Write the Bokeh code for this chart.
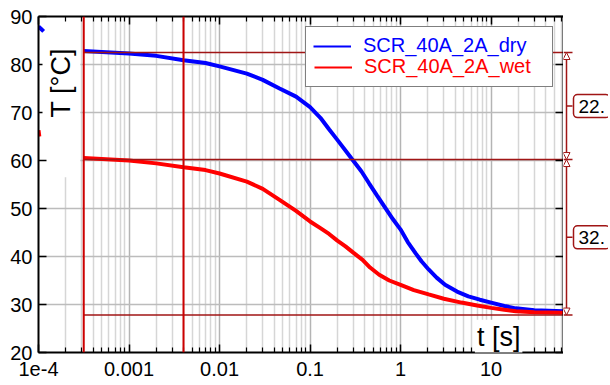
import numpy as np
from bokeh.plotting import figure
from bokeh.models import (Range1d, LogAxis, LinearAxis, FixedTicker, Span, Legend, LegendItem,
                          Label, Arrow, NormalHead, BoxAnnotation)
from bokeh.layouts import row
from bokeh.embed import file_html
from bokeh.resources import INLINE
from bokeh.core.properties import value

# ---------------- data ----------------
t_dry = [3.16e-4, 5e-4, 1e-3, 2e-3, 4e-3, 7e-3, 0.01, 0.02, 0.03, 0.046, 0.07, 0.1, 0.13,
         0.162, 0.2, 0.29, 0.37, 0.45, 0.55, 0.68, 0.82, 1.0, 1.2, 1.46, 1.7, 2.04, 2.5,
         3.1, 4.2, 5.6, 7.5, 10, 14, 18.7, 30, 63]
T_dry = [82.8, 82.6, 82.3, 81.8, 80.9, 80.3, 79.6, 78.1, 76.8, 75.0, 73.3, 71.1, 68.9,
         66.5, 64.3, 60.3, 57.7, 55.2, 52.7, 50.1, 47.8, 45.6, 43.0, 40.7, 39.0, 37.3, 35.6,
         34.1, 32.7, 31.7, 31.0, 30.4, 29.7, 29.2, 28.8, 28.6]
t_wet = [3.16e-4, 5e-4, 1e-3, 2e-3, 4e-3, 7e-3, 0.01, 0.02, 0.03, 0.046, 0.07, 0.1, 0.13,
         0.162, 0.2, 0.246, 0.3, 0.38, 0.46, 0.58, 0.75, 1.0, 1.4, 2.04, 3.0, 4.7, 7.0,
         10, 14, 18.7, 30, 63]
T_wet = [60.5, 60.3, 60.0, 59.4, 58.6, 58.0, 57.3, 55.6, 54.1, 51.8, 49.5, 47.3, 45.9,
         44.7, 43.3, 42.1, 40.8, 39.3, 37.7, 36.2, 35.0, 34.1, 33.0, 32.1, 31.2, 30.4, 29.8,
         29.3, 28.9, 28.6, 28.4, 28.3]
# early samples visible at the left border
t_dry0 = [1.0e-4, 1.07e-4, 1.14e-4]
T_dry0 = [87.9, 87.4, 86.9]
t_wet0 = [1.0e-4, 1.02e-4]
T_wet0 = [66.3, 65.0]

series_names = ["SCR_40A_2A_dry", "SCR_40A_2A_wet"]
cursor_t = [3.16e-4, 4.0e-3]          # vertical cursors
levels = [82.5, 60.2, 27.8]           # horizontal cursor levels
delta_labels = ["22.", "32."]         # difference labels (clipped in the original)

x_ticks = [1e-4, 1e-3, 1e-2, 1e-1, 1.0, 10.0]
x_labels = ["1e-4", "0.001", "0.01", "0.1", "1", "10"]
y_ticks = [20, 30, 40, 50, 60, 70, 80, 90]
x_min, x_max = 1e-4, 63.0
y_min, y_max = 20, 90

BLUE = "#0000ff"
RED = "#ff0000"
CURSOR = "#cc0000"
DARKRED = "#a01515"
FONT = "Liberation Sans"

FRAME_H = 336

# ---------------- main figure ----------------
p = figure(x_axis_type="log", x_range=Range1d(x_min, x_max), y_range=Range1d(y_min, y_max),
           frame_width=525, frame_height=FRAME_H,
           min_border_left=38, min_border_right=0, min_border_top=16, min_border_bottom=0,
           output_backend="svg", toolbar_location=None)
p.outline_line_color = None
p.background_fill_color = "white"
p.border_fill_color = "white"

minor = [m * d for d in [1e-4, 1e-3, 1e-2, 1e-1, 1.0, 10.0] for m in range(2, 10) if m * d <= x_max]
xt = FixedTicker(ticks=x_ticks, minor_ticks=minor)
yt = FixedTicker(ticks=y_ticks, minor_ticks=[])

xa = p.xaxis[0]
xa.ticker = xt
xa.major_label_overrides = dict(zip(x_ticks, x_labels))
ya = p.yaxis[0]
ya.ticker = yt

for ax in (xa, ya):
    ax.axis_line_width = 2
    ax.axis_line_color = "black"
    ax.major_tick_in = 8
    ax.major_tick_out = 0
    ax.major_tick_line_width = 1.5
    ax.minor_tick_in = 5
    ax.minor_tick_out = 0
    ax.minor_tick_line_width = 1.2
    ax.major_label_text_font = FONT
    ax.major_label_text_font_size = "20px"
    ax.major_label_text_color = "black"
ya.minor_tick_line_color = None
xa.major_label_standoff = 9
ya.major_label_standoff = 6

top = LogAxis(ticker=xt, major_label_text_font_size="0px", major_label_standoff=0,
              major_tick_in=8, major_tick_out=0, minor_tick_in=5, minor_tick_out=0,
              axis_line_width=2, major_tick_line_width=1.5, minor_tick_line_width=1.2)
top.major_label_overrides = {k: "" for k in x_ticks}
p.add_layout(top, "above")
right = LinearAxis(ticker=yt, major_label_text_font_size="0px", major_label_standoff=0,
                   major_tick_in=8, major_tick_out=0, minor_tick_line_color=None,
                   axis_line_width=2, major_tick_line_width=1.5)
right.major_label_overrides = {k: "" for k in y_ticks}
p.add_layout(right, "right")

p.xgrid.ticker = xt
p.xgrid.grid_line_color = "#b4b4b4"
p.xgrid.grid_line_width = 1.5
p.xgrid.minor_grid_line_color = "#d6d6d6"
p.xgrid.minor_grid_line_width = 1.5
p.ygrid.ticker = yt
p.ygrid.grid_line_color = "#bcbcbc"
p.ygrid.grid_line_width = 1.5

# white area behind the y title (covers grid only)
p.add_layout(BoxAnnotation(left=x_min, right=2.9e-4, bottom=56.5, top=y_max,
                           fill_color="white", fill_alpha=1, line_alpha=0, level="underlay"))

# curves
p.line(t_dry, T_dry, line_color=BLUE, line_width=4)
p.line(t_wet, T_wet, line_color=RED, line_width=4)
p.line(t_dry0, T_dry0, line_color=BLUE, line_width=4)
p.line(t_wet0, T_wet0, line_color=RED, line_width=4)

# horizontal cursor levels
p.segment(x0=[cursor_t[0]] * len(levels), x1=[x_max] * len(levels), y0=levels, y1=levels,
          line_color=DARKRED, line_width=1.5)
# vertical cursors
for c in cursor_t:
    p.add_layout(Span(location=c, dimension="height", line_color=CURSOR, line_width=2))

# legend (two overlaid legends so each label has its own colour)
leg_dry = p.line(t_dry[:1], T_dry[:1], line_color=BLUE, line_width=2)
leg_wet = p.line(t_wet[:1], T_wet[:1], line_color=RED, line_width=2)
leg_none = p.line(t_wet[:1], T_wet[:1], line_alpha=0)
common = dict(location="top_right", margin=10, padding=7, spacing=0, glyph_width=38,
              glyph_height=22, label_height=22, label_width=182, label_standoff=12,
              label_text_font_size="20px", label_text_font=FONT)
legA = Legend(items=[LegendItem(label=value(series_names[0]), renderers=[leg_dry]),
                     LegendItem(label=value(" "), renderers=[leg_none])],
              label_text_color=BLUE, border_line_color="black", border_line_width=1.5,
              background_fill_color="white", background_fill_alpha=1, **common)
legB = Legend(items=[LegendItem(label=value(" "), renderers=[leg_none]),
                     LegendItem(label=value(series_names[1]), renderers=[leg_wet])],
              label_text_color=RED, border_line_alpha=0, background_fill_alpha=0, **common)
p.add_layout(legA)
p.add_layout(legB)

# axis titles inside the plot
p.add_layout(Label(x=1.75e-4, y=76.2, text="T [°C]", angle=np.pi / 2, text_align="center",
                   text_baseline="middle", text_font=FONT, text_font_size="27px",
                   text_color="black", background_fill_color="white", padding=3))
p.add_layout(Label(x=12.1, y=23.3, text="t [s]", text_align="center", text_baseline="middle",
                   text_font=FONT, text_font_size="27px", text_color="black",
                   background_fill_color="white", padding=2))

# ---------------- right annotation strip ----------------
W2 = 45
p2 = figure(x_range=Range1d(0, W2), y_range=p.y_range, frame_width=W2, frame_height=FRAME_H,
            min_border_left=0, min_border_right=0, min_border_top=16, min_border_bottom=0,
            x_axis_type=None, y_axis_type=None, output_backend="svg", toolbar_location=None)
p2.outline_line_color = None
p2.background_fill_color = "white"
p2.border_fill_color = "white"

p2.segment(x0=[0] * len(levels), x1=[9] * len(levels), y0=levels, y1=levels,
           line_color=DARKRED, line_width=1.5)
mids = [(levels[i] + levels[i + 1]) / 2 for i in range(len(levels) - 1)]
for i in range(len(levels) - 1):
    p2.add_layout(Arrow(x_start=3, y_start=levels[i], x_end=3, y_end=levels[i + 1],
                        start=NormalHead(size=7, fill_color="white", line_color=DARKRED, line_width=1),
                        end=NormalHead(size=7, fill_color="white", line_color=DARKRED, line_width=1),
                        line_color=DARKRED, line_width=1.5))
p2.segment(x0=[3] * len(mids), x1=[9] * len(mids), y0=mids, y1=mids,
           line_color=DARKRED, line_width=1.5)
for m, txt in zip(mids, delta_labels):
    p2.add_layout(Label(x=9, y=m, x_offset=1, text=txt, text_align="left", text_baseline="middle",
                        text_font=FONT, text_font_size="19px", text_color="black",
                        background_fill_color="white", border_line_color=DARKRED,
                        border_line_width=1.5, border_radius=4, padding=5))

layout = row(p, p2)
open("out.html", "w").write(file_html(layout, INLINE))
